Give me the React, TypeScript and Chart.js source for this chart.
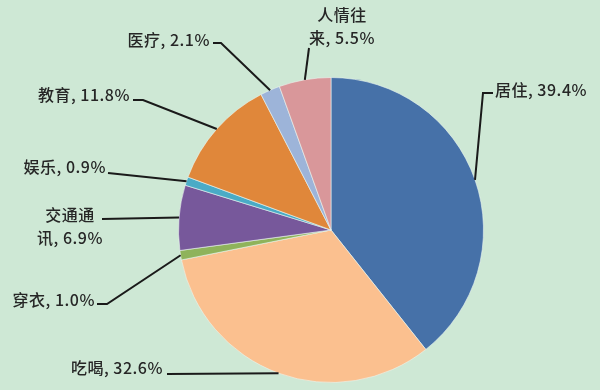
import React, { useEffect, useRef } from "react";
import { Chart, registerables } from "chart.js";

Chart.register(...registerables);

// Household spending shares (%), clockwise from 12 o'clock
const categories = ["居住", "吃喝", "穿衣", "交通通讯", "娱乐", "教育", "医疗", "人情往来"];
const shares = [39.4, 32.6, 1.0, 6.9, 0.9, 11.8, 2.1, 5.5];
const sliceColors = ["#4671a8", "#fbc08f", "#8fb35b", "#77589b", "#4aabc6", "#e0873a", "#9db4d9", "#d9979a"];

// Where each callout label sits and the bends of its leader line
type Callout = {
  x: number;
  y: number;
  align: CanvasTextAlign;
  wrap?: number; // split the text after this many characters
  bends: [number, number][];
};
const callouts: Callout[] = [
  { x: 495, y: 90, align: "left", bends: [[493, 93], [483, 93]] },
  { x: 163, y: 368, align: "right", bends: [[167, 374]] },
  { x: 95, y: 300, align: "right", bends: [[97, 304], [107, 304]] },
  { x: 70, y: 215, align: "center", wrap: 3, bends: [[102, 219]] },
  { x: 106, y: 167, align: "right", bends: [[108, 173]] },
  { x: 130, y: 95, align: "right", bends: [[133, 100], [143, 100]] },
  { x: 210, y: 40, align: "right", bends: [[213, 43], [221, 43]] },
  { x: 342, y: 15, align: "center", wrap: 3, bends: [[309, 48]] },
];

const LINE_GAP = 23;

const calloutPlugin = {
  id: "calloutLabels",
  afterDraw(chart: any) {
    const ctx: CanvasRenderingContext2D = chart.ctx;
    const meta = chart.getDatasetMeta(0);
    ctx.save();
    meta.data.forEach((arc: any, i: number) => {
      const c = callouts[i];
      if (!c) return;
      const { x, y, startAngle, endAngle, outerRadius } = arc.getProps(
        ["x", "y", "startAngle", "endAngle", "outerRadius"],
        true
      );
      const mid = (startAngle + endAngle) / 2;
      const ex = x + Math.cos(mid) * outerRadius;
      const ey = y + Math.sin(mid) * outerRadius;

      // leader line
      ctx.strokeStyle = "#1a1a1a";
      ctx.lineWidth = 2;
      ctx.beginPath();
      c.bends.forEach(([bx, by], k) => (k === 0 ? ctx.moveTo(bx, by) : ctx.lineTo(bx, by)));
      ctx.lineTo(ex, ey);
      ctx.stroke();

      // label text
      const full = `${categories[i]}, ${shares[i].toFixed(1)}%`;
      const lines = c.wrap ? [full.slice(0, c.wrap), full.slice(c.wrap)] : [full];
      ctx.fillStyle = "#262626";
      ctx.font = '500 16px "Noto Sans CJK SC", "Noto Sans", sans-serif';
      (ctx as any).letterSpacing = "0.5px";
      ctx.textAlign = c.align;
      ctx.textBaseline = "middle";
      lines.forEach((ln, k) => ctx.fillText(ln, c.x, c.y + k * LINE_GAP));
    });
    ctx.restore();
  },
};

export default function App() {
  const canvasRef = useRef<HTMLCanvasElement | null>(null);

  useEffect(() => {
    if (!canvasRef.current) return;
    const chart = new Chart(canvasRef.current, {
      type: "pie",
      data: {
        labels: categories,
        datasets: [
          {
            data: shares,
            backgroundColor: sliceColors,
            borderColor: "rgba(235,245,240,0.6)",
            borderWidth: 1,
          },
        ],
      },
      options: {
        responsive: false,
        animation: false,
        events: [],
        layout: { padding: { left: 178, right: 116, top: 77, bottom: 7 } },
        plugins: {
          legend: { display: false },
          tooltip: { enabled: false },
          title: { display: false },
        },
      },
      plugins: [calloutPlugin],
    });
    return () => chart.destroy();
  }, []);

  return (
    <div
      style={{
        position: "fixed",
        left: 0,
        top: 0,
        width: 600,
        height: 390,
        background: "#cee8d5",
      }}
    >
      <canvas ref={canvasRef} width={600} height={390} style={{ display: "block" }} />
    </div>
  );
}
